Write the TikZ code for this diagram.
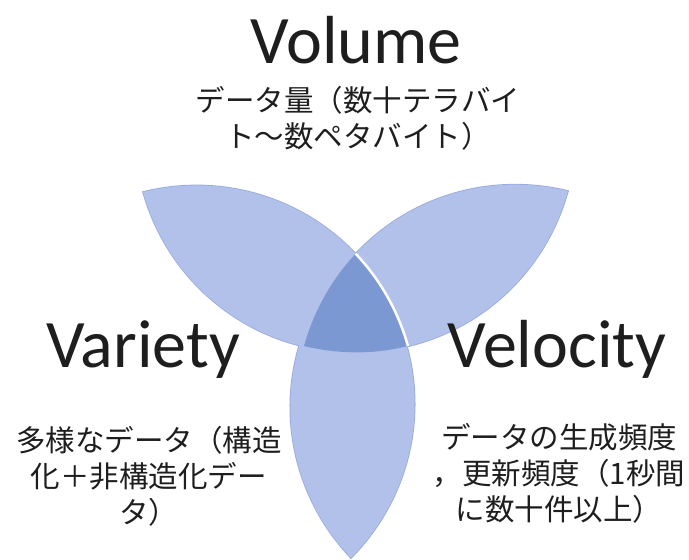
\documentclass[tikz,border=0pt]{standalone}
\usepackage{fontspec}
\setmainfont{Carlito}
\newfontfamily\jpfont{Noto Sans CJK JP}

\definecolor{petal}{RGB}{178,193,234}
\definecolor{petaledge}{RGB}{150,170,222}
\definecolor{core}{RGB}{124,152,210}
\definecolor{ink}{RGB}{30,30,30}

\tikzset{
  lens/.style 2 args={insert path={(#1) to[bend left=44] (#2) to[bend left=44] (#1) -- cycle}},
  title/.style={anchor=base, text=ink, inner sep=0pt, font=\fontsize{68}{68}\selectfont},
  note/.style={align=center, text=ink, inner sep=0pt, font=\jpfont\fontsize{29.5}{36}\selectfont},
}

\begin{document}
\begin{tikzpicture}[x=1pt,y=-1pt]
    \useasboundingbox (0,0) rectangle (689,560);
    % tips of the three petals
    \coordinate (ultip) at (143,192);
    \coordinate (urtip) at (568,191);
    \coordinate (btip) at (351,558);
    \coordinate (ulin) at (408,346);
    \coordinate (urin) at (304,346);
    \coordinate (bin) at (354,253);

    \draw[petaledge, line width=1.6pt, lens={ulin}{ultip}];
    \draw[petaledge, line width=1.6pt, lens={urin}{urtip}];
    \draw[petaledge, line width=1.6pt, lens={bin}{btip}];
    \fill[petal, lens={ulin}{ultip}];
    \fill[petal, lens={urin}{urtip}];
    \fill[petal, lens={bin}{btip}];

    \begin{scope}
        \clip[lens={ulin}{ultip}];
        \clip[lens={bin}{btip}];
        \fill[core, lens={urin}{urtip}];
    \end{scope}
    \begin{scope}
        \clip[lens={urin}{urtip}];
        \draw[white, line width=2.5pt] (ulin) to[bend right=44] (ultip);
    \end{scope}

    \node[title] (volume) at (356,63) {Volume};
    \node[title] (variety) at (143,367) {Variety};
    \node[title] (velocity) at (557,367) {Velocity};

    \node[note] (volumenote) at (358,118) {データ量（数十テラバイ\\ト～数ペタバイト）};
    \node[note] (varietynote) at (149,476) {多様なデータ（構造\\化＋非構造化デー\\タ）};
    \node[note] (velocitynote) at (559,473) {データの生成頻度\\，更新頻度（1秒間\\に数十件以上）};
\end{tikzpicture}
\end{document}
